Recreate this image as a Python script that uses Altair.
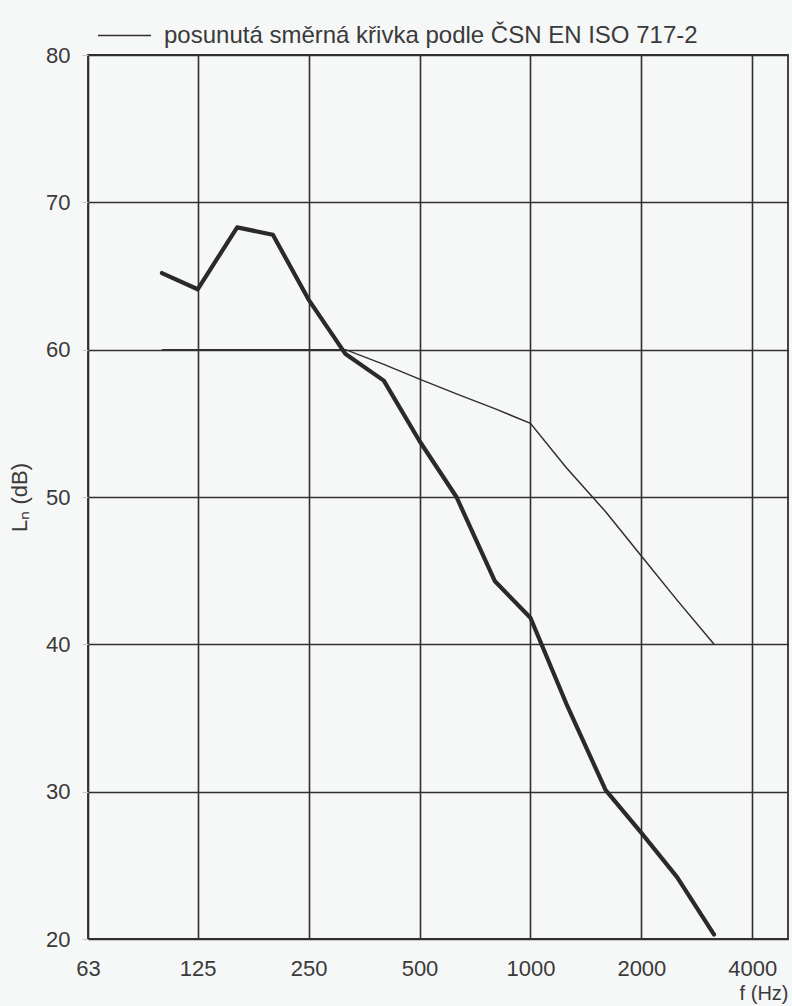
import altair as alt
import pandas as pd

# Third-octave band centre frequencies (Hz)
freqs = [100, 125, 160, 200, 250, 315, 400, 500, 630, 800,
         1000, 1250, 1600, 2000, 2500, 3150]

# Measured normalized impact sound pressure level L_n (dB)
measured = [65.2, 64.1, 68.3, 67.8, 63.4, 59.7, 57.9, 53.8, 50.0, 44.3,
            41.8, 36.0, 30.1, 27.2, 24.2, 20.3]

# Reference curve per ČSN EN ISO 717-2, shifted by -2 dB
reference = [60, 60, 60, 60, 60, 60, 59, 58, 57, 56,
             55, 52, 49, 46, 43, 40]

x_ticks = [63, 125, 250, 500, 1000, 2000, 4000]
y_ticks = [20, 30, 40, 50, 60, 70, 80]

legend_label = "posunutá směrná křivka podle ČSN EN ISO 717-2"

FONT = "Liberation Sans"
INK = "#2a2a2a"
TEXT = "#3a3a3a"

df_meas = pd.DataFrame({"f": freqs, "Ln": measured})
df_ref = pd.DataFrame({"f": freqs, "Ln": reference, "serie": legend_label})

x_enc = alt.X(
    "f:Q",
    scale=alt.Scale(type="log", domain=[63, 5000], nice=False),
    axis=alt.Axis(
        values=x_ticks,
        format="d",
        title="f (Hz)",
        titleX=700,
        titleY=44,
        titleAlign="right",
        titleBaseline="top",
        titleAnchor="end",
        titleFontWeight="normal",
        titleFontSize=20,
        titleColor=TEXT,
        titleFont=FONT,
        labelFontSize=22,
        labelFont=FONT,
        labelColor=TEXT,
        labelPadding=19,
        labelFlush=False,
        labelOverlap=False,
        tickSize=0,
        grid=True,
        gridColor="#303030",
        gridWidth=1.6,
        domain=False,
    ),
)

y_enc = alt.Y(
    "Ln:Q",
    scale=alt.Scale(domain=[20, 80], nice=False, zero=False),
    axis=alt.Axis(
        values=y_ticks,
        title="Lₙ (dB)",
        titleFontWeight="normal",
        titleFontSize=22,
        titleFont=FONT,
        titleColor=TEXT,
        titlePadding=14,
        labelFontSize=22,
        labelFont=FONT,
        labelColor=TEXT,
        labelPadding=12,
        tickSize=6,
        tickColor="#c8c8c8",
        tickWidth=1,
        grid=True,
        gridColor="#303030",
        gridWidth=1.6,
        domain=False,
    ),
)

measured_line = alt.Chart(df_meas).mark_line(
    color=INK, strokeWidth=4.2, strokeJoin="round", strokeCap="round"
).encode(x=x_enc, y=y_enc)

reference_line = alt.Chart(df_ref).mark_line(
    strokeWidth=1.5, strokeJoin="miter"
).encode(
    x="f:Q",
    y="Ln:Q",
    color=alt.Color(
        "serie:N",
        scale=alt.Scale(range=["#303030"]),
        legend=alt.Legend(
            title=None,
            orient="none",
            legendX=9,
            legendY=-47,
            symbolType="stroke",
            symbolSize=2800,
            symbolStrokeWidth=1.5,
            labelFontSize=24,
            labelFont=FONT,
            labelColor=TEXT,
            labelOffset=12,
            labelLimit=800,
        ),
    ),
)

chart = (
    alt.layer(reference_line, measured_line)
    .properties(
        width=700,
        height=884,
        autosize=alt.AutoSizeParams(type="none"),
        padding={"left": 88, "top": 55, "right": 4, "bottom": 67},
        background="#f6f7f7",
    )
    .configure_view(stroke="#303030", strokeWidth=1.8)
)

chart.save("out.html", embed_options={"renderer": "svg", "actions": False})
